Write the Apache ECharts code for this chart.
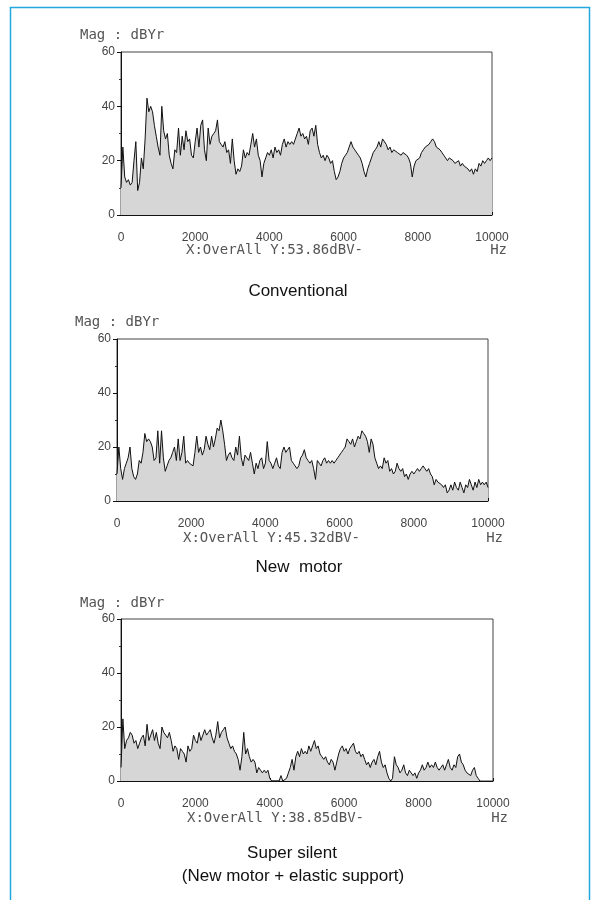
<!DOCTYPE html>
<html><head><meta charset="utf-8">
<script src="https://cdn.jsdelivr.net/npm/echarts@6/dist/echarts.min.js"></script>
<style>html,body{margin:0;padding:0;background:#fff}#c{width:591px;height:900px}</style>
</head><body><div id="c"></div>
<script>
// ---- data ----
const FREQ_STEP = 50; // Hz between spectrum samples
const xTickLabels = ['0', '2000', '4000', '6000', '8000', '10000'];
const yTickLabels = ['0', '20', '40', '60'];
const yAxisName = 'Mag : dBYr';
const xUnit = 'Hz';
const chartTitles = ['Conventional', 'New  motor', 'Super silent', '(New motor + elastic support)'];
const overallLabels = ['X:OverAll Y:53.86dBV-', 'X:OverAll Y:45.32dBV-', 'X:OverAll Y:38.85dBV-'];

const magConventional = [
10,25,14,12,13,11,12,20,27,9,
12,21,17,28,43,38,40,38,33,29,
25,22,40,31,28,30,22,19,17,24,
23,32,22,29,24,31,27,28,22,21,
27,32,25,33,35,24,20,32,26,29,
30,31,35,27,26,25,27,23,24,19,
28,20,15,17,16,18,24,21,23,22,
26,30,25,28,22,20,14,19,21,23,
22,24,21,25,23,24,22,26,28,25,
27,26,27,26,28,30,32,29,30,28,
29,26,31,32,29,33,26,23,21,22,
20,22,21,19,20,16,13,14,16,19,
21,22,23,25,27,25,24,24,22,21,
19,16,14,17,19,21,23,24,25,27,
25,28,28,26,24,25,23,24,24,23,
23,22,23,23,22,21,19,14,18,20,
20,21,23,24,25,25,26,27,28,27,
25,25,24,23,22,21,20,21,21,20,
19,19,20,18,19,18,18,17,16,17,
15,17,16,19,18,20,19,20,21,20,
21];

const magNewMotor = [
10,20,12,8,12,14,16,20,12,9,
8,10,15,14,18,25,22,23,22,20,
15,16,26,14,26,16,11,13,15,16,
18,20,15,23,15,18,24,14,15,14,
14,13,18,24,18,20,17,19,24,21,
19,24,20,23,27,26,30,26,21,15,
17,18,16,15,20,17,24,16,13,17,
16,15,18,14,10,14,12,15,16,12,
14,22,15,14,12,14,16,13,12,18,
20,18,19,20,15,14,13,12,13,16,
17,19,16,15,14,15,12,8,15,14,
13,15,16,14,15,14,15,14,15,16,
17,18,19,20,23,22,21,23,20,22,
24,23,26,25,24,22,18,23,21,16,
14,12,13,12,16,14,15,11,12,10,
11,14,12,11,12,9,10,8,10,11,
10,11,12,11,12,13,12,11,12,10,
9,6,8,7,7,6,5,6,3,4,
6,4,7,5,4,7,5,3,6,5,
8,6,4,7,5,8,6,7,6,7,
5];

const magSuperSilent = [
5,23,12,15,16,18,17,14,15,12,
14,16,17,13,21,15,17,19,15,18,
14,12,20,18,17,16,18,15,11,13,
12,8,12,11,10,7,13,11,12,17,
15,14,18,15,17,19,17,18,19,16,
14,17,22,16,18,19,20,16,14,12,
13,11,10,8,4,9,18,10,12,9,
7,8,7,3,5,4,3,4,3,4,
1,0,0,0,0,0,2,0,0,1,
3,5,8,4,9,11,9,12,10,11,
10,13,11,13,15,12,13,10,9,8,
9,7,6,8,7,4,7,10,12,13,
11,12,10,12,13,14,11,10,11,9,
10,8,6,7,5,7,8,6,9,11,
7,5,6,3,1,0,1,9,6,5,
3,4,6,3,2,4,3,2,3,1,
3,4,6,4,5,7,5,6,5,7,
5,4,5,6,4,6,8,5,4,6,
5,9,10,7,6,4,3,3,2,4,
5,2,1,0];

// ---- layout ----
const panels = [
  { data: magConventional, left: 121, top: 52, width: 371, height: 163, magY: 35, magX: 80, infoX: 186, infoY: 250 },
  { data: magNewMotor,     left: 117, top: 339, width: 371, height: 162, magY: 322, magX: 75, infoX: 183, infoY: 538 },
  { data: magSuperSilent,  left: 121, top: 619, width: 372, height: 162, magY: 603, magX: 80, infoX: 187, infoY: 818 }
];

const monoFont = '14px "DejaVu Sans Mono", monospace';
const grids = [], xAxes = [], yAxes = [], series = [], graphics = [];

panels.forEach((p, i) => {
  grids.push({ left: p.left, top: p.top, width: p.width, height: p.height,
    show: true, borderColor: '#444', borderWidth: 1, backgroundColor: 'transparent' });
  xAxes.push({
    gridIndex: i, type: 'value', min: 0, max: 10000, interval: 1000,
    axisLine: { show: true, onZero: false, lineStyle: { color: '#111', width: 1 } },
    axisTick: { show: true, inside: true, length: 3, lineStyle: { color: '#111' } },
    splitLine: { show: false },
    axisLabel: { margin: 17, color: '#444', fontSize: 12, fontFamily: 'Liberation Sans, Arial',
      showMinLabel: true, showMaxLabel: true,
      formatter: v => (v % 2000 === 0 ? xTickLabels[v / 2000] : '') }
  });
  yAxes.push({
    gridIndex: i, type: 'value', min: 0, max: 60, interval: 20,
    axisLine: { show: true, lineStyle: { color: '#111', width: 1 } },
    axisTick: { show: true, length: 4, lineStyle: { color: '#111' } },
    minorTick: { show: true, splitNumber: 2, length: 2, lineStyle: { color: '#333' } },
    splitLine: { show: false },
    axisLabel: { margin: 6, color: '#444', fontSize: 12, fontFamily: 'Liberation Sans, Arial',
      formatter: v => yTickLabels[v / 20] }
  });
  series.push({
    type: 'line', xAxisIndex: i, yAxisIndex: i,
    data: p.data.map((v, k) => [k * FREQ_STEP, v]),
    symbol: 'none', silent: true,
    lineStyle: { color: '#111', width: 1 },
    areaStyle: { color: '#d6d6d6', opacity: 1, origin: 'start' }
  });
  graphics.push({ type: 'text', style: { x: p.magX, y: p.magY, text: yAxisName, font: monoFont,
    fill: '#555', textVerticalAlign: 'middle' } });
  graphics.push({ type: 'text', style: { x: p.infoX, y: p.infoY, text: overallLabels[i], font: monoFont,
    fill: '#555', textVerticalAlign: 'middle' } });
  graphics.push({ type: 'text', style: { x: p.left + p.width + 15, y: p.infoY, text: xUnit, font: monoFont,
    fill: '#555', textAlign: 'right', textVerticalAlign: 'middle' } });
});

const titleFont = '17px "Liberation Sans", Arial, sans-serif';
[[298, 291], [299, 567], [292, 853], [293, 876]].forEach((pos, k) => {
  graphics.push({ type: 'text', style: { x: pos[0], y: pos[1], text: chartTitles[k], font: titleFont,
    fill: '#111', textAlign: 'center', textVerticalAlign: 'middle' } });
});

graphics.push({ type: 'polyline', shape: { points: [[10.5, 900], [10.5, 7.5], [589.5, 7.5], [589.5, 900]] },
  style: { stroke: '#22a7e0', lineWidth: 1.5, fill: null } });

const chart = echarts.init(document.getElementById('c'), null, { renderer: 'canvas' });
chart.setOption({
  animation: false, backgroundColor: '#fff',
  grid: grids, xAxis: xAxes, yAxis: yAxes, series: series, graphic: graphics
});
</script></body></html>
